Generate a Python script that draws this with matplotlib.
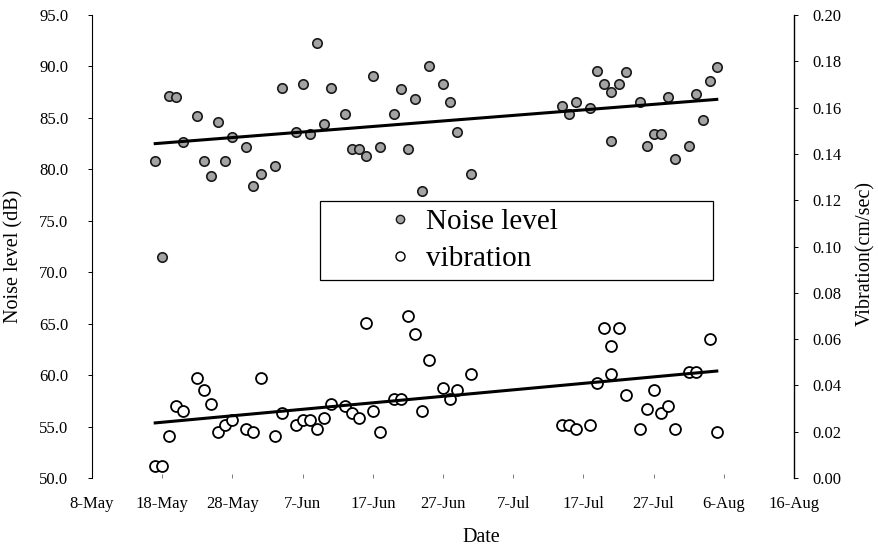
import numpy as np
import pandas as pd
import matplotlib
matplotlib.use('Agg')
import matplotlib.pyplot as plt
import matplotlib.dates as mdates
from matplotlib.patches import Rectangle

plt.rcParams['font.family'] = ['Liberation Serif', 'DejaVu Serif']

# Данные
noise_dates = ['05-17', '05-18', '05-19', '05-20', '05-21', '05-23', '05-24', '05-25',
               '05-26', '05-27', '05-28', '05-30', '05-31', '06-01', '06-03', '06-04',
               '06-06', '06-07', '06-08', '06-09', '06-10', '06-11', '06-13', '06-14',
               '06-15', '06-16', '06-17', '06-18', '06-20', '06-21', '06-22', '06-23',
               '06-24', '06-25', '06-27', '06-28', '06-29', '07-01', '07-14', '07-15',
               '07-16', '07-18', '07-19', '07-20', '07-21', '07-21', '07-22', '07-23',
               '07-25', '07-26', '07-27', '07-28', '07-29', '07-30', '08-01', '08-02',
               '08-03', '08-04', '08-05']
noise_db = [80.8, 71.5, 87.1, 87.0, 82.7, 85.2, 80.8, 79.4,
            84.6, 80.8, 83.1, 82.2, 78.4, 79.5, 80.3, 87.9,
            83.6, 88.3, 83.4, 92.3, 84.4, 87.9, 85.4, 82.0,
            82.0, 81.3, 89.1, 82.2, 85.4, 87.8, 82.0, 86.8,
            77.9, 90.0, 88.3, 86.5, 83.6, 79.5, 86.2, 85.4,
            86.5, 86.0, 89.6, 88.3, 87.5, 82.8, 88.3, 89.5,
            86.5, 82.3, 83.4, 83.4, 87.0, 81.0, 82.3, 87.3,
            84.8, 88.6, 89.9]

vib_dates = ['05-17', '05-18', '05-19', '05-20', '05-21', '05-23', '05-24', '05-25',
             '05-26', '05-27', '05-28', '05-30', '05-31', '06-01', '06-03', '06-04',
             '06-06', '06-07', '06-08', '06-09', '06-10', '06-11', '06-13', '06-14',
             '06-15', '06-16', '06-17', '06-18', '06-20', '06-21', '06-22', '06-23',
             '06-24', '06-25', '06-27', '06-28', '06-29', '07-01', '07-14', '07-15',
             '07-16', '07-18', '07-19', '07-20', '07-21', '07-21', '07-22', '07-23',
             '07-25', '07-26', '07-27', '07-28', '07-29', '07-30', '08-01', '08-02',
             '08-04', '08-05']
vib_val = [0.005, 0.005, 0.018, 0.031, 0.029, 0.043, 0.038, 0.032,
           0.020, 0.023, 0.025, 0.021, 0.020, 0.043, 0.018, 0.028,
           0.023, 0.025, 0.025, 0.021, 0.026, 0.032, 0.031, 0.028,
           0.026, 0.067, 0.029, 0.020, 0.034, 0.034, 0.070, 0.062,
           0.029, 0.051, 0.039, 0.034, 0.038, 0.045, 0.023, 0.023,
           0.021, 0.023, 0.041, 0.065, 0.045, 0.057, 0.065, 0.036,
           0.021, 0.030, 0.038, 0.028, 0.031, 0.021, 0.046, 0.046,
           0.060, 0.020]

# Линии тренда (концы)
trend_dates = ['05-17', '08-05']
noise_trend = [82.5, 86.8]
vib_trend = [0.0238, 0.0462]

year = '2004-'
nd = pd.to_datetime([year + d for d in noise_dates])
vd = pd.to_datetime([year + d for d in vib_dates])
td = pd.to_datetime([year + d for d in trend_dates])

fig = plt.figure(figsize=(8.79, 5.5), dpi=100)
ax = fig.add_axes([0.1047, 0.1309, 0.7986, 0.8418])
ax2 = ax.twinx()

# Шум
ax.scatter(nd, noise_db, s=46, facecolor='#a3a3a3', edgecolor='#1a1a1a',
           linewidth=1.2, zorder=3)
ax.plot(td, noise_trend, color='black', lw=2.2, zorder=4)

# Вибрация
ax2.scatter(vd, vib_val, s=62, facecolor='white', edgecolor='black',
            linewidth=1.3, zorder=3)
ax2.plot(td, vib_trend, color='black', lw=2.2, zorder=4)

ax.set_ylim(50, 95)
ax.set_yticks(np.arange(50, 95.1, 5))
ax.yaxis.set_major_formatter(plt.FormatStrFormatter('%.1f'))
ax2.set_ylim(0, 0.2)
ax2.set_yticks(np.arange(0, 0.201, 0.02))
ax2.yaxis.set_major_formatter(plt.FormatStrFormatter('%.2f'))

ax.set_xlim(pd.Timestamp(year + '05-08'), pd.Timestamp(year + '08-16'))
ax.set_xticks(pd.date_range(year + '05-08', year + '08-16', freq='10D'))
ax.xaxis.set_major_formatter(mdates.DateFormatter('%-d-%b'))

for a in (ax, ax2):
    a.spines['top'].set_visible(False)
    a.spines['bottom'].set_visible(False)
    a.patch.set_visible(False)
ax.spines['right'].set_visible(False)
ax2.spines['left'].set_visible(False)
ax.spines['left'].set_linewidth(0.8)
ax2.spines['right'].set_linewidth(1.0)

ax.tick_params(axis='y', direction='out', length=3, width=0.7, pad=14, labelsize=12)
ax2.tick_params(axis='y', direction='out', length=3, width=0.7, pad=10, labelsize=12)
ax.tick_params(axis='x', direction='in', length=3, width=0.6, color='#666666',
               pad=13, labelsize=12)

fig.text(14 / 879, 1 - 256 / 550, 'Noise level (dB)', rotation=90,
         ha='center', va='center', fontsize=14.5)
fig.text(866 / 879, 1 - 254 / 550, 'Vibration(cm/sec)', rotation=90,
         ha='center', va='center', fontsize=14.5)
fig.text(481 / 879, 1 - 537 / 550, 'Date', ha='center', va='center', fontsize=14.5)

# Рамка легенды и легенда
frame = Rectangle((320 / 879, 1 - 280 / 550), 393 / 879, 79 / 550,
                  transform=fig.transFigure, facecolor='white',
                  edgecolor='black', linewidth=0.9, zorder=6)
ax2.add_patch(frame)
h1 = plt.Line2D([], [], ls='none', marker='o', ms=6, mfc='#a3a3a3', mec='#1a1a1a', mew=1.0)
h2 = plt.Line2D([], [], ls='none', marker='o', ms=6.5, mfc='white', mec='black', mew=1.0)
leg = ax2.legend([h1, h2], ['Noise level', 'vibration'], loc='center left',
                 bbox_to_anchor=(371 / 879, 1 - 240.5 / 550),
                 bbox_transform=fig.transFigure, frameon=False, fontsize=21,
                 handlelength=1, handletextpad=0.4, borderpad=0, labelspacing=0.35)
leg.set_zorder(7)

fig.savefig('out.png', dpi=100)
